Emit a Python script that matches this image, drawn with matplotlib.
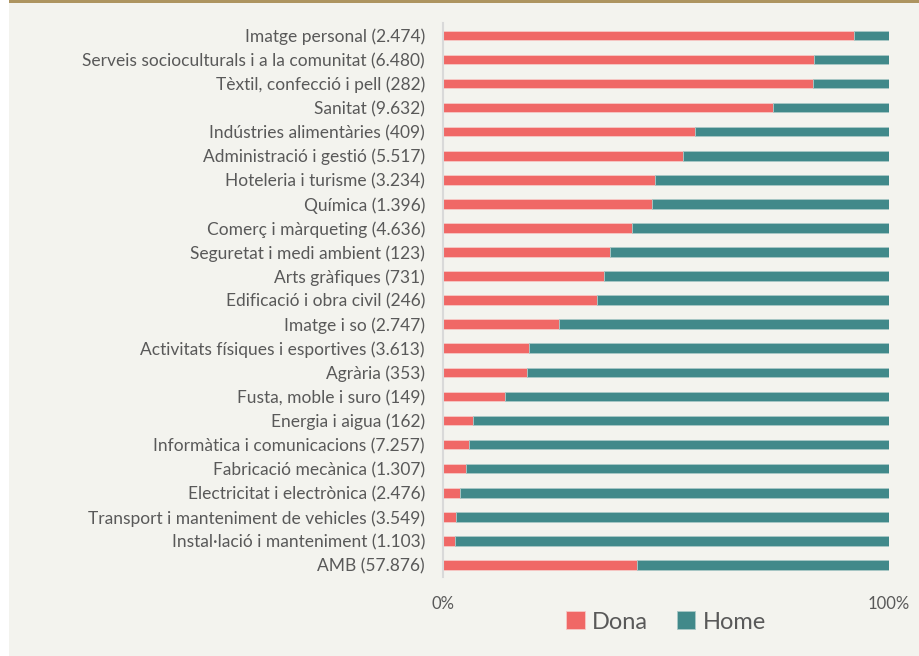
import matplotlib.pyplot as plt
from matplotlib.patches import Rectangle

categories = [
    "Imatge personal (2.474)",
    "Serveis socioculturals i a la comunitat (6.480)",
    "Tèxtil, confecció i pell (282)",
    "Sanitat (9.632)",
    "Indústries alimentàries (409)",
    "Administració i gestió (5.517)",
    "Hoteleria i turisme (3.234)",
    "Química (1.396)",
    "Comerç i màrqueting (4.636)",
    "Seguretat i medi ambient (123)",
    "Arts gràfiques (731)",
    "Edificació i obra civil (246)",
    "Imatge i so (2.747)",
    "Activitats físiques i esportives (3.613)",
    "Agrària (353)",
    "Fusta, moble i suro (149)",
    "Energia i aigua (162)",
    "Informàtica i comunicacions (7.257)",
    "Fabricació mecànica (1.307)",
    "Electricitat i electrònica (2.476)",
    "Transport i manteniment de vehicles (3.549)",
    "Instal·lació i manteniment (1.103)",
    "AMB (57.876)",
]
dona = [92.2, 83.2, 83.0, 74.1, 56.4, 53.9, 47.5, 46.8, 42.3, 37.4, 36.0, 34.5,
        25.9, 19.2, 18.8, 14.0, 6.8, 5.9, 5.2, 3.7, 3.0, 2.6, 43.4]
home = [100 - d for d in dona]

c_dona = "#f06866"
c_home = "#41898a"
txt = "#595959"
bg = "#f3f3ee"

plt.rcParams['font.family'] = ['Lato', 'DejaVu Sans']

W, H = 919, 656
fig = plt.figure(figsize=(W / 100, H / 100), dpi=100)
fig.patch.set_facecolor("white")
fig.add_artist(Rectangle((9 / W, 0), 1, 1, transform=fig.transFigure,
                         facecolor=bg, edgecolor="none", zorder=-10))
fig.add_artist(Rectangle((9 / W, 1 - 3 / H), 1, 3 / H, transform=fig.transFigure,
                         facecolor="#ad9460", edgecolor="none", zorder=-9))

ax = fig.add_axes([443 / W, 1 - 577 / H, 446 / W, (577 - 23.3) / H])
ax.set_facecolor("none")

y = list(range(len(categories)))
ax.barh(y, dona, height=0.4, color=c_dona, edgecolor="#f6c9c6", linewidth=0.6, label="Dona")
ax.barh(y, home, left=dona, height=0.4, color=c_home, edgecolor="#a9c8c6", linewidth=0.6, label="Home")

ax.set_ylim(len(categories) - 0.5, -0.5)
ax.set_xlim(0, 100)
ax.set_yticks(y)
ax.set_yticklabels(categories, fontsize=12.5, color=txt)
ax.set_xticks([0, 100])
ax.set_xticklabels(["0%", "100%"], fontsize=12, color=txt)
ax.tick_params(length=0)
ax.tick_params(axis="y", pad=13)
ax.tick_params(axis="x", pad=14)
for s in ["top", "right", "bottom"]:
    ax.spines[s].set_visible(False)
ax.spines["left"].set_color("#d9d9d9")
ax.spines["left"].set_linewidth(1.5)

leg = fig.legend(loc="center", bbox_to_anchor=(666 / W, 1 - 622 / H), ncol=2,
                 frameon=False, fontsize=17, handlelength=0.8, handleheight=0.8,
                 handletextpad=0.3, columnspacing=1.2, labelcolor=txt)

fig.savefig("out.png", dpi=100, facecolor=fig.get_facecolor())
